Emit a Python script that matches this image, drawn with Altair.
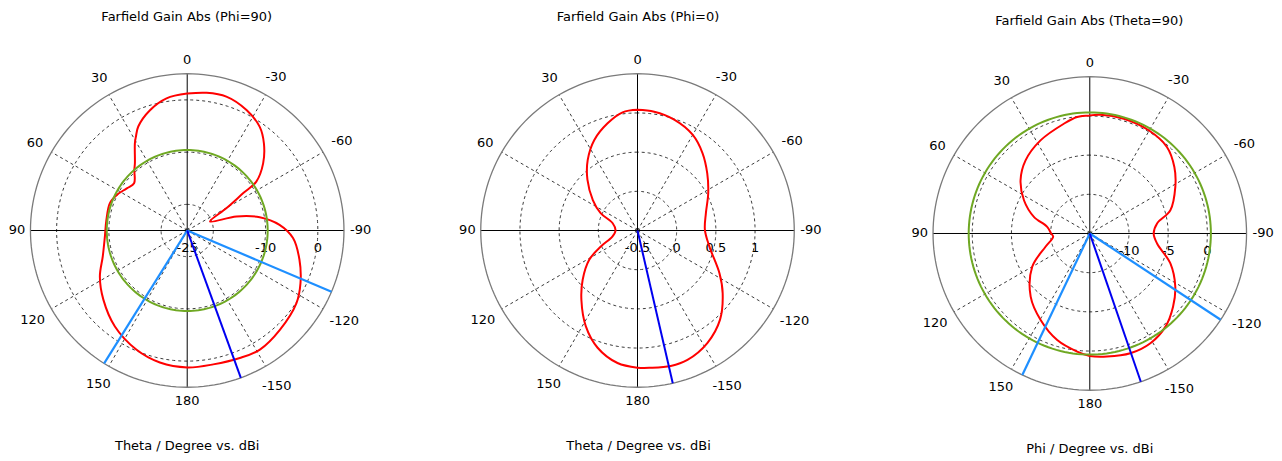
import altair as alt
import numpy as np
import pandas as pd

FONT = "DejaVu Sans"
FS = 13
PX = 157.0          # outer circle radius in pixels
W = 354             # plot width of each panel
H = 400             # plot height of each panel

ANGLE_TICKS = [0, 30, 60, 90, 120, 150, 180, -150, -120, -90, -60, -30]
ANGLE_LABELS = ["0", "30", "60", "90", "120", "150", "180", "-150", "-120", "-90", "-60", "-30"]
SPOKES = [30, 60, 120, 150, -150, -120, -60, -30]

# ---------------- Panel 1 : Farfield Gain Abs (Phi=90) ----------------
P1_TITLE = "Farfield Gain Abs (Phi=90)"
P1_XTITLE = "Theta / Degree vs. dBi"
P1_RANGE = [-25, 5]
P1_RINGS = [-20, -10, 0]
P1_TICKS = [-25, -10, 0]
P1_TICK_LABELS = ["-25", "-10", "0"]
P1_THETA = [0, 8.9, 17.2, 25.2, 28.6, 30.9, 37.9, 41.1, 48.4, 55.1, 63.2, 70.5, 82.4, 94.2,
            107, 117.8, 129.5, 143, 157, 168.3, 180, -169, -157.6, -148.6, -137, -123.6,
            -114.9, -104.6, -94.1, -86.5, -79.6, -74.1, -68.4, -60.4, -56.3, -54.7, -48.5,
            -41.4, -35, -26.2, -16.3, -8]
P1_GAIN = [1.2, 0.6, -0.9, -3.0, -4.5, -5.5, -8.7, -9.6, -11.4, -10.9, -9.9, -9.3, -9.4, -9.2,
           -8.1, -6.1, -4.2, -2.0, -0.2, 0.8, 1.2, 1.1, 1.4, 1.7, 1.0, 0.1,
           -1.1, -2.8, -4.7, -7.3, -10.9, -15.2, -20.3, -16.4, -12.1, -8.8, -5.6,
           -2.8, -0.8, 0.7, 1.7, 1.6]
P1_ISO = -9.6
P1_MAIN = -160
P1_HPBW = [-113, 148]

# ---------------- Panel 2 : Farfield Gain Abs (Phi=0) ----------------
P2_TITLE = "Farfield Gain Abs (Phi=0)"
P2_XTITLE = "Theta / Degree vs. dBi"
P2_RANGE = [-0.5, 1.5]
P2_RINGS = [0, 0.5, 1]
P2_TICKS = [-0.5, 0, 0.5, 1]
P2_TICK_LABELS = ["-0.5", "0", "0.5", "1"]
P2_THETA = [0, -8, -18.3, -29.9, -40, -50.7, -62.2, -75.8, -89.4, -102.6, -117.6, -126.4,
            -137.2, -148.2, -158.9, -166.2, -174.5, 180, 171.4, 161.2, 151.7, 141.1, 131.9,
            121.2, 113.6, 103.5, 90, 73.7, 64.8, 55.7, 44.6, 35.3, 25.5, 15.6, 7.2]
P2_GAIN = [1.04, 1.03, 0.99, 0.91, 0.79, 0.65, 0.52, 0.40, 0.36, 0.44, 0.68, 0.85,
           1.05, 1.19, 1.27, 1.28, 1.26, 1.25, 1.21, 1.08, 0.89, 0.64, 0.44,
           0.22, 0.01, -0.17, -0.22, -0.17, 0.02, 0.19, 0.41, 0.60, 0.78, 0.92, 1.02]
P2_ISO = None
P2_MAIN = -167
P2_HPBW = []

# ---------------- Panel 3 : Farfield Gain Abs (Theta=90) ----------------
P3_TITLE = "Farfield Gain Abs (Theta=90)"
P3_XTITLE = "Phi / Degree vs. dBi"
P3_RANGE = [-15, 5]
P3_RINGS = [-10, -5, 0]
P3_TICKS = [-10, -5, 0]
P3_TICK_LABELS = ["-10", "-5", "0"]
P3_THETA = [0, -5.1, -16.5, -29.7, -41.7, -51.8, -61.4, -73.9, -81.5, -90, -98.5, -110.4,
            -121.9, -131.3, -140.9, -151.1, -161.3, -172, 180, 173.9, 163, 150.4, 136.9,
            120, 106.7, 95.1, 90, 81.1, 73.4, 63.2, 52.4, 41.3, 27.9, 13.3, 6.2]
P3_GAIN = [0.07, 0.22, 0.27, 0.16, -0.21, -1.27, -2.57, -4.30, -6.32, -6.85, -6.32, -4.03,
           -2.15, -0.86, 0.31, 1.0, 1.14, 0.86, 0.63, 0.16, -0.78, -2.3, -3.96,
           -6.52, -9.1, -10.31, -10.07, -9.5, -7.56, -5.59, -3.85, -2.58, -1.56, -0.61, -0.04]
P3_ISO = 0.45
P3_MAIN = -161
P3_HPBW = [-123.4, 154.5]

CIRCLE_T = np.arange(0, 361, 2)


def to_xy(ch, dmin, span):
    return ch.transform_calculate(
        rn=f"(datum.g - ({dmin})) / {span}",
        px="-datum.rn * sin(datum.t * PI / 180)",
        py="datum.rn * cos(datum.t * PI / 180)",
    )


def build_panel(title, xtitle, rng, rings, ticks, tick_labels, theta, gain, iso,
                main_dir, hpbw, xshift, yshift, title_dy, xtitle_pad):
    dmin, dmax = rng
    span = dmax - dmin
    xlo = -(W / 2 + xshift) / PX
    xhi = (W / 2 - xshift) / PX
    ylo = -(H / 2 - yshift) / PX
    yhi = (H / 2 + yshift) / PX

    X = alt.X("px:Q", scale=alt.Scale(domain=[xlo, xhi], nice=False, zero=False),
              axis=alt.Axis(title=xtitle, labels=False, ticks=False, domain=False, grid=False,
                            titleFont=FONT, titleFontSize=FS, titleFontWeight="normal",
                            titleColor="#000000", titlePadding=xtitle_pad))
    Y = alt.Y("py:Q", scale=alt.Scale(domain=[ylo, yhi], nice=False, zero=False), axis=None)

    ring_df = pd.DataFrame([(k, g, t) for k, g in enumerate(rings) for t in CIRCLE_T],
                           columns=["k", "g", "t"])
    outer_df = pd.DataFrame({"g": dmax, "t": CIRCLE_T})
    spoke_df = pd.DataFrame([(a, g) for a in SPOKES for g in (dmin, dmax)], columns=["t", "g"])
    spoke_df["k"] = spoke_df["t"]
    axis_df = pd.DataFrame({"k": [0, 0, 1, 1], "i": [0, 1, 0, 1],
                            "t": [0, 180, 90, -90], "g": [dmax] * 4})
    lab_df = pd.DataFrame({"t": ANGLE_TICKS, "lab": ANGLE_LABELS})
    tick_df = pd.DataFrame({"g": ticks, "t": -90, "lab": tick_labels})
    curve_df = pd.DataFrame({"t": list(theta) + [theta[0]], "g": list(gain) + [gain[0]]})
    curve_df["i"] = range(len(curve_df))

    layers = []
    layers.append(to_xy(alt.Chart(ring_df), dmin, span).mark_line(
        color="#3a3a3a", strokeDash=[3, 3], strokeWidth=1).encode(
        x=X, y=Y, detail="k:N", order="t:Q"))
    layers.append(to_xy(alt.Chart(spoke_df), dmin, span).mark_line(
        color="#3a3a3a", strokeDash=[3, 3], strokeWidth=1).encode(
        x=X, y=Y, detail="k:N", order="g:Q"))
    layers.append(to_xy(alt.Chart(axis_df), dmin, span).mark_line(
        color="#000000", strokeWidth=1).encode(
        x=X, y=Y, detail="k:N", order="i:Q"))
    layers.append(to_xy(alt.Chart(outer_df), dmin, span).mark_line(
        color="#7a7a7a", strokeWidth=1.3).encode(
        x=X, y=Y, order="t:Q"))
    layers.append(alt.Chart(lab_df).transform_calculate(
        rn="(164 + 7*abs(cos(datum.t*PI/180)) + 3.2*length(datum.lab)*abs(sin(datum.t*PI/180))"
           " + 7*abs(sin(datum.t*PI/180)*cos(datum.t*PI/180))) / " + str(PX),
        px="-datum.rn * sin(datum.t * PI / 180)",
        py="datum.rn * cos(datum.t * PI / 180)",
    ).mark_text(font=FONT, fontSize=FS, color="#000000", align="center",
                baseline="middle").encode(x=X, y=Y, text="lab:N"))
    layers.append(to_xy(alt.Chart(tick_df), dmin, span).mark_text(
        font=FONT, fontSize=FS, color="#000000", align="center", baseline="middle",
        dy=18).encode(x=X, y=Y, text="lab:N"))
    layers.append(to_xy(alt.Chart(curve_df), dmin, span).mark_line(
        color="#ff0000", strokeWidth=2, interpolate="catmull-rom").encode(
        x=X, y=Y, order="i:Q"))
    if iso is not None:
        iso_df = pd.DataFrame({"g": iso, "t": CIRCLE_T})
        layers.append(to_xy(alt.Chart(iso_df), dmin, span).mark_line(
            color="#6fa823", strokeWidth=2).encode(x=X, y=Y, order="t:Q"))
    if hpbw:
        hp_df = pd.DataFrame([(a, g) for a in hpbw for g in (dmin, dmax)], columns=["t", "g"])
        hp_df["k"] = hp_df["t"]
        layers.append(to_xy(alt.Chart(hp_df), dmin, span).mark_line(
            color="#1e8fff", strokeWidth=2.2).encode(x=X, y=Y, detail="k:N", order="g:Q"))
    main_df = pd.DataFrame({"t": main_dir, "g": [dmin, dmax]})
    layers.append(to_xy(alt.Chart(main_df), dmin, span).mark_line(
        color="#0000f0", strokeWidth=2).encode(x=X, y=Y, order="g:Q"))

    return alt.layer(*layers).properties(
        width=W, height=H,
        title=alt.Title(title, font=FONT, fontSize=FS, fontWeight="normal",
                        color="#000000", offset=6, dy=title_dy),
    )


p1 = build_panel(P1_TITLE, P1_XTITLE, P1_RANGE, P1_RINGS, P1_TICKS, P1_TICK_LABELS,
                 P1_THETA, P1_GAIN, P1_ISO, P1_MAIN, P1_HPBW, 0.5, 0.5, 0, 10)
p2 = build_panel(P2_TITLE, P2_XTITLE, P2_RANGE, P2_RINGS, P2_TICKS, P2_TICK_LABELS,
                 P2_THETA, P2_GAIN, P2_ISO, P2_MAIN, P2_HPBW, -0.5, 0.5, 0, 10)
p3 = build_panel(P3_TITLE, P3_XTITLE, P3_RANGE, P3_RINGS, P3_TICKS, P3_TICK_LABELS,
                 P3_THETA, P3_GAIN, P3_ISO, P3_MAIN, P3_HPBW, 0.5, 3.5, 4, 13)

chart = alt.hconcat(p1, p2, p3, spacing=98, bounds="flush").properties(
    padding={"top": 3, "left": 0, "right": 0, "bottom": 0}, background="white"
).configure_view(stroke=None)

chart.save("out.html", embed_options={"renderer": "svg", "actions": False})
